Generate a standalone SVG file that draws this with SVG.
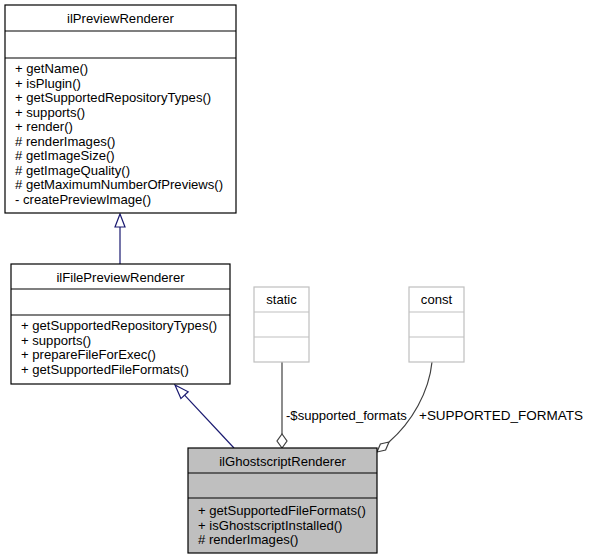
<svg xmlns="http://www.w3.org/2000/svg" width="590" height="560" viewBox="0 0 590 560">
<style>
text{font-family:"Liberation Sans",Arial,sans-serif;font-size:13.1px;fill:#000}
.t{text-anchor:middle}
.box{fill:#fff;stroke:#000;stroke-width:1.2}
.cur{fill:#bfbfbf;stroke:#000;stroke-width:1.2}
.gray{fill:#fff;stroke:#bfbfbf;stroke-width:1.2}
.ln{stroke:#000;stroke-width:1.2}
.lg{stroke:#bfbfbf;stroke-width:1.2}
.inh{fill:none;stroke:#191970;stroke-width:1.2}
.use{fill:none;stroke:#404040;stroke-width:1.2}
</style>
<rect width="590" height="560" fill="#fff"/>
<g id="connectors">
<path class="inh" d="M120,264 L120,227"/>
<polygon class="inh" points="120,214 125,227 115,227" style="fill:#fff"/>
<path class="inh" d="M234,448 L184.6,395.2"/>
<polygon class="inh" points="175,385 188.2,391.8 180.9,398.6" style="fill:#fff"/>
<path class="use" d="M282,362 L282,434"/>
<polygon class="use" points="282,448 277,441 282,434 287,441" style="fill:#fff"/>
<path class="use" d="M432,362 C429,392 412,422 389,442"/>
<polygon class="use" points="377,452 380.4,443.9 389,442 385.6,450.1" style="fill:#fff"/>
<text x="286" y="420">-$supported_formats</text>
<text x="419" y="420" textLength="164" lengthAdjust="spacingAndGlyphs">+SUPPORTED_FORMATS</text>
</g>
<g id="ilPreviewRenderer">
<rect class="box" x="5" y="5" width="231" height="208"/>
<line class="ln" x1="5" y1="31" x2="236" y2="31"/>
<line class="ln" x1="5" y1="58" x2="236" y2="58"/>
<text class="t" x="120.5" y="23">ilPreviewRenderer</text>
<text x="15" y="73">+ getName()</text>
<text x="15" y="87.5">+ isPlugin()</text>
<text x="15" y="102">+ getSupportedRepositoryTypes()</text>
<text x="15" y="116.5">+ supports()</text>
<text x="15" y="131">+ render()</text>
<text x="15" y="145.5"># renderImages()</text>
<text x="15" y="160"># getImageSize()</text>
<text x="15" y="174.5"># getImageQuality()</text>
<text x="15" y="189"># getMaximumNumberOfPreviews()</text>
<text x="15" y="203.5">- createPreviewImage()</text>
</g>
<g id="ilFilePreviewRenderer">
<rect class="box" x="11" y="264" width="219" height="120"/>
<line class="ln" x1="11" y1="289" x2="230" y2="289"/>
<line class="ln" x1="11" y1="315" x2="230" y2="315"/>
<text class="t" x="120.5" y="282">ilFilePreviewRenderer</text>
<text x="21" y="330">+ getSupportedRepositoryTypes()</text>
<text x="21" y="344.5">+ supports()</text>
<text x="21" y="359">+ prepareFileForExec()</text>
<text x="21" y="373.5">+ getSupportedFileFormats()</text>
</g>
<g id="static">
<rect class="gray" x="254" y="287" width="55" height="75"/>
<line class="lg" x1="254" y1="312" x2="309" y2="312"/>
<line class="lg" x1="254" y1="337" x2="309" y2="337"/>
<text class="t" x="281.5" y="304">static</text>
</g>
<g id="const">
<rect class="gray" x="409" y="287" width="55" height="75"/>
<line class="lg" x1="409" y1="312" x2="464" y2="312"/>
<line class="lg" x1="409" y1="337" x2="464" y2="337"/>
<text class="t" x="436.5" y="304">const</text>
</g>
<g id="ilGhostscriptRenderer">
<rect class="cur" x="188" y="448" width="189" height="105"/>
<line class="ln" x1="188" y1="473" x2="377" y2="473"/>
<line class="ln" x1="188" y1="498" x2="377" y2="498"/>
<text class="t" x="282.5" y="466">ilGhostscriptRenderer</text>
<text x="198" y="515">+ getSupportedFileFormats()</text>
<text x="198" y="529.5">+ isGhostscriptInstalled()</text>
<text x="198" y="544"># renderImages()</text>
</g>
</svg>
